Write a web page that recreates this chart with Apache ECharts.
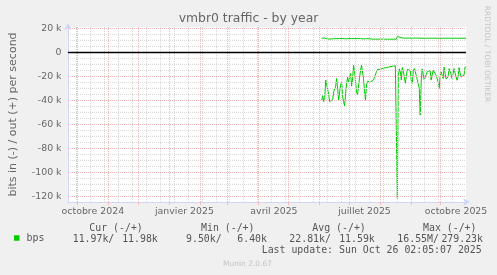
<!DOCTYPE html>
<html><head><meta charset="utf-8">
<script src="https://cdn.jsdelivr.net/npm/echarts@6/dist/echarts.min.js"></script>
<style>html,body{margin:0;padding:0;background:#F0F0F0;}#c{width:497px;height:275px;}</style>
</head><body><div id="c"></div>
<script>
const titleText = 'vmbr0 traffic - by year';
const yAxisName = 'bits in (-) / out (+) per second';
const firstDay = Date.UTC(2025, 5, 3, 12); // one point per day from here
// daily averages in kbit/s
const bpsInK = [
 -39.7,-36,-41,-38,-23,-23,-24,-35,-41,-41,
 -40,-39,-33,-34,-28,-21.7,-30,-40,-33,-27,
 -25,-37,-41,-44.7,-34,-26,-20.6,-25,-21,-17.5,
 -28,-22,-10.6,-16,-24,-33,-35,-28,-21,-15,
 -10.6,-12,-21.7,-32,-39.7,-27,-24,-23,-24.5,-24.5,
 -23,-24,-23,-21.5,-21.7,-16,-14,-13.6,-14.2,-14,
 -13.4,-13.4,-13,-13,-12.6,-12.6,-12.3,-12.3,-12,-12,
 -11.8,-11.5,-11.5,-11.1,-11.1,-10.8,-121.5,-19,-13.6,-16,
 -23,-12.5,-14,-20,-25.6,-20,-14,-12.8,-13.4,-15,
 -23,-25.7,-15.5,-13.4,-16,-14.7,-17.5,-25.9,-30,-52.2,
 -23,-13.6,-14.7,-23,-24.5,-23,-16,-14.7,-15,-15,
 -23,-21.7,-14.7,-13.4,-14.7,-19,-22,-24.5,-30,-20.3,
 -16.1,-19,-21.7,-12.2,-17.5,-22,-23.1,-20.3,-13.4,-12,
 -18,-21.7,-20.3,-13.4,-17,-20.3,-23.1,-20.3,-12.5,-17,
 -20.3,-20.3,-19.5,-18.9,-12.2,-12.2
];
const bpsOutK = [
 12,12,12,12,12,11.2,11.2,11.2,11.2,11.2,
 11.2,11.2,11.5,11.5,11.5,11.5,11.7,11.7,11.7,11.7,
 11.7,11.7,11.7,11.7,11.4,11.4,11.6,11.6,11.6,11.6,
 11.6,11.6,11.6,11.6,11.6,11.6,11.6,11.6,11.6,11.6,
 11.6,11.6,11.3,11.3,11.3,11.5,11.5,11.5,11.5,11.1,
 11.1,11.1,11.1,11.1,11.1,11.1,11.1,11.1,11.1,11.1,
 11.1,11.1,11.1,11.1,11.1,11.1,11.1,11.1,11.1,11.1,
 11.1,11.1,11.1,11.1,11.1,11.1,13.3,12.7,12.7,12.7,
 12.7,12,12,12,12,12,12,12,12,12,
 12,12,12,12,12,12,12,12,12,12.6,
 11.9,11.9,11.9,11.9,11.9,11.9,11.9,11.9,11.9,11.9,
 11.9,11.9,11.9,11.9,11.9,11.9,11.9,11.9,11.9,11.9,
 11.9,11.9,11.5,11.9,11.9,11.9,11.9,11.9,11.9,11.9,
 11.9,11.9,11.9,11.9,11.9,11.9,11.9,11.9,11.9,11.9,
 11.9,11.9,11.9,11.9,11.9,11.9
];
const yTickValues = [20000, 0, -20000, -40000, -60000, -80000, -100000, -120000];
const yTickLabels = ['20 k', '0', '-20 k', '-40 k', '-60 k', '-80 k', '-100 k', '-120 k'];
const xLabelTimes = [Date.UTC(2024,9,16,12), Date.UTC(2025,0,16,12), Date.UTC(2025,3,16,12), Date.UTC(2025,6,16,12), Date.UTC(2025,9,16,12)];
const xLabelTexts = ['octobre 2024', 'janvier 2025', 'avril 2025', 'juillet 2025', 'octobre 2025'];
const legendHeaders = ['Cur (-/+)', 'Min (-/+)', 'Avg (-/+)', 'Max (-/+)'];
const legendValues = [['11.97k/', '11.98k'], ['9.50k/', '6.40k'], ['22.81k/', '11.59k'], ['16.55M/', '279.23k']];
const lastUpdate = 'Last update: Sun Oct 26 02:05:07 2025';
const footer = 'Munin 2.0.67';
const sideText = 'RRDTOOL / TOBI OETIKER';

const DAY = 86400000;
const xMin = Date.UTC(2024, 8, 21, 12), xMax = Date.UTC(2025, 9, 26, 12);
const monthStarts = [];
for (let m = 9; m <= 21; m++) monthStarts.push(Date.UTC(2024, m, 1));
const biweekly = [];
for (let t = Date.UTC(2024, 8, 30); t < xMax; t += 14 * DAY) biweekly.push(t);
const minorY = [];
for (let v = 20000; v >= -120000; v -= 5000) if (v % 20000 !== 0) minorY.push(v);

const inData = bpsInK.map((v, i) => [firstDay + i * DAY, v * 1000]);
const outData = bpsOutK.map((v, i) => [firstDay + i * DAY, v * 1000]);

const MAJ = '#F3BBBB', MIN = '#DADADA', AX = '#CFD6F8', FONT = '#666666';
const dash = [1, 1];
const gridLines = [];
biweekly.forEach(t => gridLines.push({xAxis: t, lineStyle: {color: MIN, type: dash, width: 1}}));
minorY.forEach(v => gridLines.push({yAxis: v, lineStyle: {color: MIN, type: dash, width: 1}}));
monthStarts.forEach(t => gridLines.push({xAxis: t, lineStyle: {color: MAJ, type: dash, width: 1}}));
yTickValues.filter(v => v !== 0).forEach(v => gridLines.push({yAxis: v, lineStyle: {color: MAJ, type: dash, width: 1}}));

const chart = echarts.init(document.getElementById('c'), null, {renderer: 'canvas'});
const mono = '"DejaVu Sans Mono"';
const graphics = [
  {type: 'text', x: 248.5, y: 18.5, style: {text: titleText, font: '12.4px "DejaVu Sans"', fill: FONT, textAlign: 'center', textVerticalAlign: 'middle'}},
  {type: 'text', x: 487, y: 54, rotation: -Math.PI / 2, style: {text: sideText, font: '7.5px "DejaVu Sans"', fill: '#C4C4C4', textAlign: 'center', textVerticalAlign: 'middle'}},
  {type: 'text', x: 261.7, y: 250.7, style: {text: lastUpdate, font: '9.9px ' + mono, fill: '#555', textAlign: 'left', textVerticalAlign: 'middle'}},
  {type: 'text', x: 247.5, y: 264, style: {text: footer, font: '7.5px "DejaVu Sans"', fill: '#C4C4C4', textAlign: 'center', textVerticalAlign: 'middle'}}
];
const headerX = [89.3, 201, 312.3, 423];
legendHeaders.forEach((h, i) => graphics.push({type: 'text', x: headerX[i], y: 228, style: {text: h, font: '9.9px ' + mono, fill: '#555', textAlign: 'left', textVerticalAlign: 'middle'}}));
const valLeft = [72.7, 186, 289.3, 397.3], valRight = [157.8, 267, 374.8, 483];
legendValues.forEach((p, i) => {
  graphics.push({type: 'text', x: valLeft[i], y: 239.3, style: {text: p[0], font: '9.9px ' + mono, fill: '#555', textAlign: 'left', textVerticalAlign: 'middle'}});
  graphics.push({type: 'text', x: valRight[i], y: 239.3, style: {text: p[1], font: '9.9px ' + mono, fill: '#555', textAlign: 'right', textVerticalAlign: 'middle'}});
});

chart.setOption({
  animation: false,
  backgroundColor: '#F0F0F0',
  grid: {left: 66, top: 27, width: 400, height: 175, show: true, backgroundColor: '#FFFFFF', borderWidth: 0},
  legend: {data: ['bps'], left: 14, top: 233, padding: 0, icon: 'rect', itemWidth: 5.5, itemHeight: 5.5, selectedMode: false,
    textStyle: {fontFamily: 'DejaVu Sans Mono', fontSize: 9.9, color: '#555', padding: [0, 0, 0, 2]}},
  xAxis: {
    type: 'value', min: xMin, max: xMax,
    axisLine: {show: true, onZero: false, lineStyle: {color: AX, width: 1}, symbol: ['none', 'arrow'], symbolSize: [6, 7], symbolOffset: [0, 4]},
    axisTick: {show: true, customValues: monthStarts, length: 3, lineStyle: {color: MAJ}},
    splitLine: {show: false},
    axisLabel: {customValues: xLabelTimes, margin: 5, color: FONT, fontFamily: 'DejaVu Sans', fontSize: 9.4,
      formatter: (v) => { let b = 0; xLabelTimes.forEach((t, i) => { if (Math.abs(t - v) < Math.abs(xLabelTimes[b] - v)) b = i; }); return xLabelTexts[b]; }}
  },
  yAxis: {
    type: 'value', min: -124583, max: 21250,
    name: yAxisName, nameLocation: 'middle', nameGap: 49,
    nameTextStyle: {fontFamily: 'DejaVu Sans', fontSize: 11, color: FONT},
    axisLine: {show: true, lineStyle: {color: AX, width: 1}, symbol: ['none', 'arrow'], symbolSize: [6, 7], symbolOffset: [0, 4]},
    axisTick: {show: false},
    splitLine: {show: false},
    axisLabel: {customValues: yTickValues, margin: 6.5, color: FONT, fontFamily: 'DejaVu Sans', fontSize: 9.4,
      formatter: (v) => { const i = yTickValues.indexOf(v); return i >= 0 ? yTickLabels[i] : ''; }}
  },
  graphic: graphics,
  series: [
    {name: 'grid', type: 'line', data: [], z: 1, silent: true,
      markLine: {silent: true, symbol: 'none', label: {show: false}, animation: false, data: gridLines}},
    {name: 'bps', type: 'line', data: inData, z: 3, showSymbol: false, symbol: 'none', color: '#00CC00', lineStyle: {width: 1, color: '#00CC00'},
      markLine: {silent: true, symbol: 'none', label: {show: false}, animation: false, data: [{yAxis: 0, lineStyle: {color: '#000000', type: 'solid', width: 1.3}}]}},
    {name: 'bps', type: 'line', data: outData, z: 3, showSymbol: false, symbol: 'none', color: '#00CC00', lineStyle: {width: 1, color: '#00CC00'}}
  ]
});
</script></body></html>
